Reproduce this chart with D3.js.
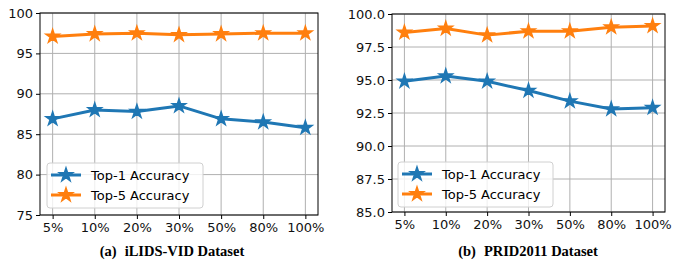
<!DOCTYPE html>
<html>
<head>
<meta charset="utf-8">
<script src="https://cdn.jsdelivr.net/npm/d3@7"></script>
<style>
  body { margin: 0; background: #fff; }
  svg text { font-family: "DejaVu Sans", sans-serif; }
</style>
</head>
<body>
<div id="chart"></div>
<script>
var w = 674, h = 263;

// shared x categories
var categories = ["5%", "10%", "20%", "30%", "50%", "80%", "100%"];
var seriesNames = ["Top-1 Accuracy", "Top-5 Accuracy"];
var colors = ["#1f77b4", "#ff7f0e"];

// (a) iLIDS-VID
var ilidsTop1 = [86.9, 88.0, 87.8, 88.5, 86.9, 86.5, 85.8];
var ilidsTop5 = [97.1, 97.4, 97.5, 97.3, 97.4, 97.5, 97.5];
var ilidsTicks = [75, 80, 85, 90, 95, 100];

// (b) PRID2011
var pridTop1 = [94.9, 95.3, 94.9, 94.2, 93.4, 92.8, 92.9];
var pridTop5 = [98.6, 98.9, 98.4, 98.7, 98.7, 99.0, 99.1];
var pridTicks = [85.0, 87.5, 90.0, 92.5, 95.0, 97.5, 100.0];

var svg = d3.select("#chart").append("svg").attr("width", w).attr("height", h);

function drawPanel(opt) {
  var x = d3.scalePoint().domain(categories).range([opt.left, opt.right]).padding(0.3);
  var y = d3.scaleLinear().domain([opt.ticks[0], opt.ticks[opt.ticks.length - 1]]).range([opt.bottom, opt.top]);
  var g = svg.append("g");

  // grid
  g.append("g").selectAll("line").data(categories).enter().append("line")
    .attr("x1", d => x(d)).attr("x2", d => x(d)).attr("y1", opt.top).attr("y2", opt.bottom)
    .style("stroke", "#b0b0b0").style("stroke-width", 1);
  g.append("g").selectAll("line").data(opt.ticks).enter().append("line")
    .attr("x1", opt.left).attr("x2", opt.right).attr("y1", d => y(d)).attr("y2", d => y(d))
    .style("stroke", "#b0b0b0").style("stroke-width", 1);

  // axes
  var xa = g.append("g").attr("transform", "translate(0," + opt.bottom + ")")
    .call(d3.axisBottom(x).tickSize(4).tickPadding(4));
  var ya = g.append("g").attr("transform", "translate(" + opt.left + ",0)")
    .call(d3.axisLeft(y).tickValues(opt.ticks).tickFormat(opt.fmt).tickSize(4).tickPadding(3));
  [xa, ya].forEach(function (a) {
    a.select(".domain").remove();
    a.selectAll("text").style("font-size", "13px").style("fill", "#111");
    a.selectAll("line").style("stroke", "#000");
  });

  g.append("rect").attr("x", opt.left).attr("y", opt.top)
    .attr("width", opt.right - opt.left).attr("height", opt.bottom - opt.top)
    .style("fill", "none").style("stroke", "#000").style("stroke-width", 1);

  // series
  var star = d3.symbol().type(d3.symbolStar).size(55);
  opt.series.forEach(function (vals, si) {
    var line = d3.line().x((d, i) => x(categories[i])).y(d => y(d));
    g.append("path").attr("d", line(vals)).style("fill", "none")
      .style("stroke", colors[si]).style("stroke-width", 3).style("stroke-linejoin", "round");
    g.append("g").selectAll("path").data(vals).enter().append("path")
      .attr("d", star).attr("transform", (d, i) => "translate(" + x(categories[i]) + "," + y(d) + ")")
      .style("fill", colors[si]).style("stroke", colors[si]).style("stroke-width", 1.5);
  });

  // legend
  var lg = g.append("g").attr("transform", "translate(" + opt.legX + "," + opt.legY + ")");
  lg.append("rect").attr("width", opt.legW).attr("height", 45).attr("rx", 3)
    .style("fill", "#fff").style("fill-opacity", 0.8).style("stroke", "#d0d0d0");
  seriesNames.forEach(function (name, i) {
    var yy = 12 + i * 20;
    lg.append("line").attr("x1", 4).attr("x2", 34).attr("y1", yy).attr("y2", yy)
      .style("stroke", colors[i]).style("stroke-width", 3);
    lg.append("path").attr("d", star).attr("transform", "translate(19," + yy + ")")
      .style("fill", colors[i]).style("stroke", colors[i]).style("stroke-width", 1.5);
    lg.append("text").attr("x", 44).attr("y", yy).attr("dy", "0.35em")
      .style("font-size", "13px").text(name);
  });

  // caption
  var cap = g.append("text").attr("x", opt.capX).attr("y", 256).attr("text-anchor", "middle")
    .style("font-family", "'Liberation Serif', serif").style("font-weight", "bold").style("font-size", "14.5px");
  cap.append("tspan").text(opt.capA);
  cap.append("tspan").attr("dx", 8).text(opt.capB);
}

drawPanel({
  left: 40, right: 318, top: 13, bottom: 215,
  ticks: ilidsTicks, fmt: d3.format("d"), series: [ilidsTop1, ilidsTop5],
  legX: 47, legY: 163, legW: 156, capX: 172, capA: "(a)", capB: "iLIDS-VID Dataset"
});
drawPanel({
  left: 392, right: 665, top: 14, bottom: 212,
  ticks: pridTicks, fmt: d3.format(".1f"), series: [pridTop1, pridTop5],
  legX: 398, legY: 162, legW: 155, capX: 528, capA: "(b)", capB: "PRID2011 Dataset"
});
</script>
</body>
</html>
